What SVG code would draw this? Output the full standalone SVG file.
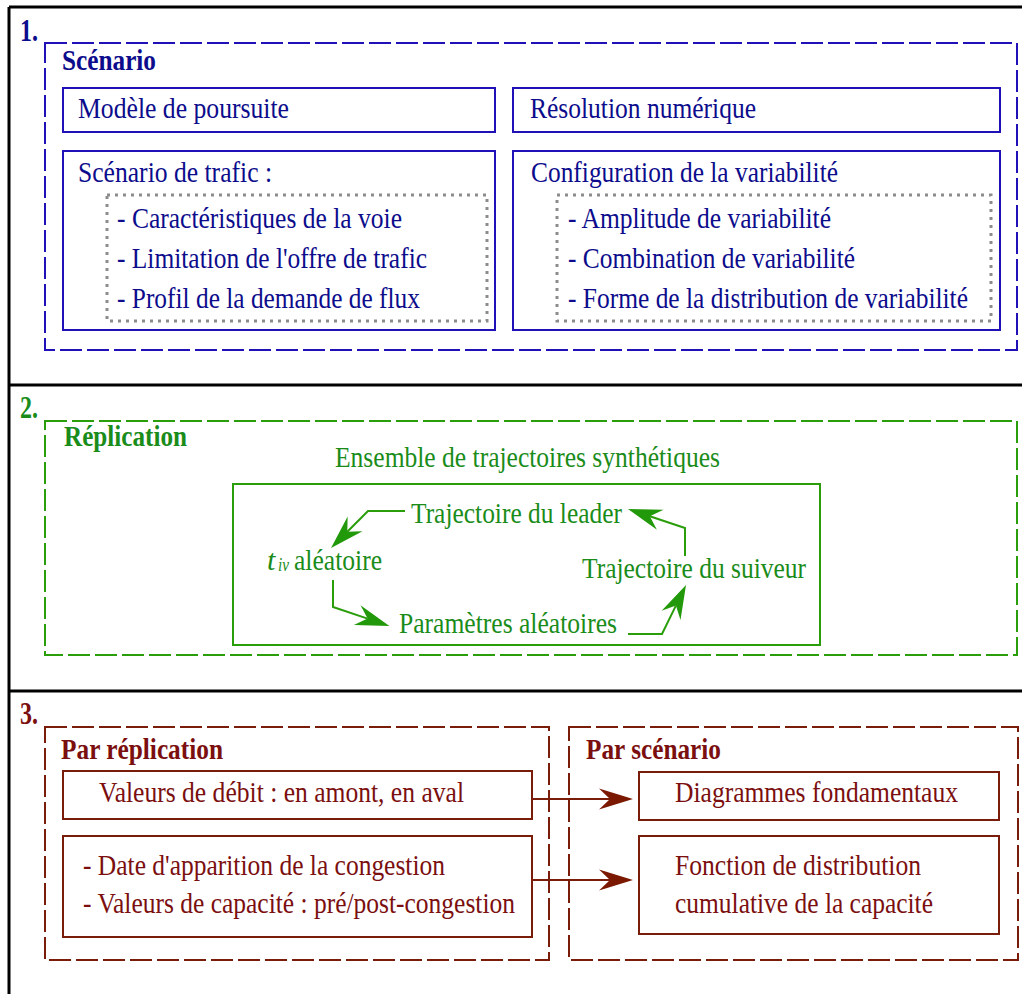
<svg xmlns="http://www.w3.org/2000/svg" width="1022" height="994" viewBox="0 0 1022 994">
<defs>
<style>
text{font-family:"Liberation Serif","Times New Roman",serif;font-size:30px}
.b{font-weight:bold}
.num{font-size:31px}
.sub{font-size:19px;font-style:italic}
.it{font-style:italic}
.blueT{fill:#0c0c8c}
.greenT{fill:#1a8c1a}
.redT{fill:#7b0f0f}
.frame{stroke:#000;stroke-width:3;fill:none}
.dash{fill:none;stroke-width:2;stroke-dasharray:22 5}
.box{fill:none;stroke-width:2}
.dot{fill:none;stroke:#8c8c8c;stroke-width:3;stroke-dasharray:3 5}
.blueS{stroke:#2010b8}
.greenS{stroke:#2a9d0a}
.redS{stroke:#7a1c0a}
.conn{fill:none;stroke-width:2}
</style>
<marker id="ag" markerUnits="userSpaceOnUse" markerWidth="40" markerHeight="30" refX="0" refY="0" viewBox="-12 -12 40 24" orient="auto" overflow="visible">
<path d="M23,0 L-11,-10.5 L0,0 L-11,10.5 Z" fill="#22990a"/>
</marker>
<marker id="ar" markerUnits="userSpaceOnUse" markerWidth="40" markerHeight="30" refX="0" refY="0" viewBox="-12 -12 40 24" orient="auto" overflow="visible">
<path d="M23,0 L-11,-10.5 L0,0 L-11,10.5 Z" fill="#7a1800"/>
</marker>
</defs>
<rect width="1022" height="994" fill="#fff"/>
<g id="frame">
<path class="frame" d="M9,7 H1022 M9,7 V994 M9,385 H1022 M9,691 H1022"/>
</g>

<g id="section1">
<text class="b num blueT" x="20" y="41" textLength="18" lengthAdjust="spacingAndGlyphs">1.</text>
<rect class="dash blueS" x="45" y="43" width="972" height="307"/>
<text class="b blueT" x="62" y="70" textLength="94" lengthAdjust="spacingAndGlyphs">Scénario</text>
</g>
<g id="modele">
<rect class="box blueS" x="63" y="88" width="432" height="44"/>
<text class="blueT" x="78" y="118" textLength="211" lengthAdjust="spacingAndGlyphs">Modèle de poursuite</text>
</g>
<g id="resolution">
<rect class="box blueS" x="513" y="88" width="487" height="44"/>
<text class="blueT" x="530" y="118" textLength="226" lengthAdjust="spacingAndGlyphs">Résolution numérique</text>
</g>
<g id="scenario-trafic">
<rect class="box blueS" x="63" y="151" width="432" height="179"/>
<text class="blueT" x="78" y="182" textLength="194" lengthAdjust="spacingAndGlyphs">Scénario de trafic :</text>
<rect class="dot" x="107" y="195" width="380" height="126"/>
<text class="blueT" x="117" y="228" textLength="285" lengthAdjust="spacingAndGlyphs">- Caractéristiques de la voie</text>
<text class="blueT" x="117" y="268" textLength="310" lengthAdjust="spacingAndGlyphs">- Limitation de l'offre de trafic</text>
<text class="blueT" x="117" y="308" textLength="303" lengthAdjust="spacingAndGlyphs">- Profil de la demande de flux</text>
</g>
<g id="config-variabilite">
<rect class="box blueS" x="513" y="151" width="487" height="179"/>
<text class="blueT" x="531" y="182" textLength="307" lengthAdjust="spacingAndGlyphs">Configuration de la variabilité</text>
<rect class="dot" x="557" y="195" width="434" height="126"/>
<text class="blueT" x="568" y="228" textLength="263" lengthAdjust="spacingAndGlyphs">- Amplitude de variabilité</text>
<text class="blueT" x="568" y="268" textLength="287" lengthAdjust="spacingAndGlyphs">- Combination de variabilité</text>
<text class="blueT" x="568" y="308" textLength="400" lengthAdjust="spacingAndGlyphs">- Forme de la distribution de variabilité</text>
</g>

<g id="section2">
<text class="b num greenT" x="20" y="418" textLength="18" lengthAdjust="spacingAndGlyphs">2.</text>
<rect class="dash greenS" x="45" y="421" width="972" height="234"/>
<text class="b greenT" x="64" y="446" textLength="123" lengthAdjust="spacingAndGlyphs">Réplication</text>
</g>
<g id="ensemble">
<text class="greenT" x="335" y="467" textLength="385" lengthAdjust="spacingAndGlyphs">Ensemble de trajectoires synthétiques</text>
<rect class="box greenS" x="233" y="484" width="587" height="161"/>
</g>
<g id="leader">
<text class="greenT" x="411" y="523" textLength="211" lengthAdjust="spacingAndGlyphs">Trajectoire du leader</text>
</g>
<g id="tiv">
<text class="greenT it" x="267" y="570">t</text>
<text class="greenT sub" x="278" y="571" textLength="11" lengthAdjust="spacingAndGlyphs">iv</text>
<text class="greenT" x="294" y="570" textLength="88" lengthAdjust="spacingAndGlyphs">aléatoire</text>
</g>
<g id="parametres">
<text class="greenT" x="399" y="633" textLength="218" lengthAdjust="spacingAndGlyphs">Paramètres aléatoires</text>
</g>
<g id="suiveur">
<text class="greenT" x="582" y="578" textLength="224" lengthAdjust="spacingAndGlyphs">Trajectoire du suiveur</text>
</g>

<g id="section3">
<text class="b num redT" x="20" y="724" textLength="18" lengthAdjust="spacingAndGlyphs">3.</text>
<rect class="dash redS" x="45" y="727" width="504" height="233"/>
<rect class="dash redS" x="569" y="727" width="449" height="233"/>
<text class="b redT" x="61" y="759" textLength="162" lengthAdjust="spacingAndGlyphs">Par réplication</text>
<text class="b redT" x="586" y="759" textLength="135" lengthAdjust="spacingAndGlyphs">Par scénario</text>
</g>
<g id="debit">
<rect class="box redS" x="63" y="771" width="469" height="48"/>
<text class="redT" x="99" y="802" textLength="365" lengthAdjust="spacingAndGlyphs">Valeurs de débit : en amont, en aval</text>
</g>
<g id="congestion">
<rect class="box redS" x="63" y="836" width="469" height="101"/>
<text class="redT" x="83" y="875" textLength="362" lengthAdjust="spacingAndGlyphs">- Date d'apparition de la congestion</text>
<text class="redT" x="83" y="913" textLength="432" lengthAdjust="spacingAndGlyphs">- Valeurs de capacité : pré/post-congestion</text>
</g>
<g id="diagrammes">
<rect class="box redS" x="639" y="772" width="360" height="48"/>
<text class="redT" x="675" y="802" textLength="283" lengthAdjust="spacingAndGlyphs">Diagrammes fondamentaux</text>
</g>
<g id="fonction">
<rect class="box redS" x="639" y="836" width="360" height="98"/>
<text class="redT" x="675" y="875" textLength="246" lengthAdjust="spacingAndGlyphs">Fonction de distribution</text>
<text class="redT" x="675" y="913" textLength="258" lengthAdjust="spacingAndGlyphs">cumulative de la capacité</text>
</g>

<g id="connectors">
<polyline class="conn greenS" points="405,511 368,511 347.3,531.7" marker-end="url(#ag)"/>
<polyline class="conn greenS" points="333,580 333,607 367.6,618.6" marker-end="url(#ag)"/>
<polyline class="conn greenS" points="628,634 662,634 675.9,605.6" marker-end="url(#ag)"/>
<polyline class="conn greenS" points="685,556 685,528 649.8,516.3" marker-end="url(#ag)"/>
<line class="conn redS" x1="532" y1="799" x2="610" y2="799" marker-end="url(#ar)"/>
<line class="conn redS" x1="532" y1="880" x2="610" y2="880" marker-end="url(#ar)"/>
</g>
</svg>
